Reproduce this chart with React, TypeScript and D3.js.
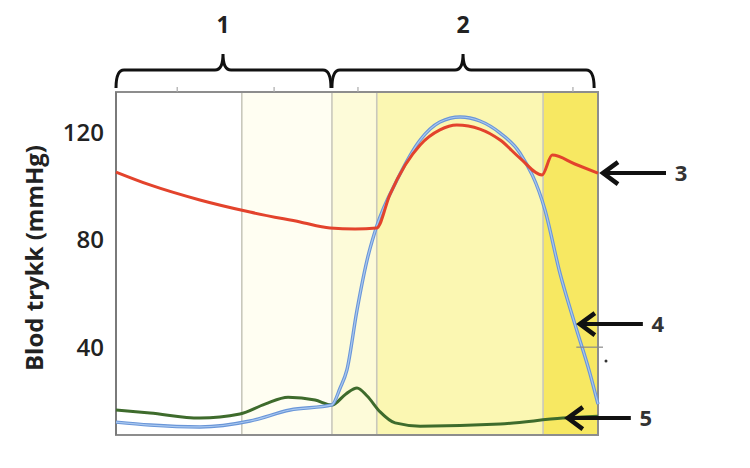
import React from "react";
import * as d3 from "d3";

// ---- data (time in % of cycle, pressure in mmHg) ----
const redT = [0, 7.05, 17.4, 27.8, 38.2, 44.4, 49.6, 54.1, 56.8, 60.0, 63.1, 67.2, 70.7, 75.5, 79.7, 83.8, 88.4, 90.5, 95.2, 100];
const redV = [105.2, 100.4, 94.8, 90.3, 86.6, 84.4, 84.0, 84.4, 96.7, 107.8, 115.3, 120.9, 122.7, 121.2, 117.1, 110.4, 104.1, 111.5, 108.2, 104.8];

const blueT = [0, 7.05, 17.4, 27.8, 36.1, 44.8, 46.5, 47.9, 50.0, 52.1, 54.1, 58.3, 63.1, 67.2, 71.4, 75.5, 79.7, 83.8, 89.0, 92.1, 95.2, 98.3, 100];
const blueV = [12.1, 11.0, 10.3, 12.5, 16.6, 18.5, 24.8, 31.5, 53.8, 72.5, 85.1, 102.2, 117.1, 123.8, 125.7, 124.2, 119.7, 112.3, 91.1, 67.6, 48.6, 30.4, 18.8];

const greenT = [0, 7.05, 17.4, 25.7, 30.9, 35.7, 41.3, 44.8, 47.7, 50.0, 52.1, 54.8, 57.9, 63.1, 79.7, 92.7, 100];
const greenV = [16.6, 15.5, 13.6, 15.1, 18.8, 21.4, 20.3, 18.5, 22.6, 24.8, 21.8, 15.9, 11.8, 10.6, 11.4, 13.6, 14.3];

const phaseBounds = [0, 26.1, 44.8, 54.1, 88.6, 100];
const phaseColors = ["#ffffff", "#fffef2", "#fdfbd9", "#fbf7b2", "#f7e862"];

const yTicks = [40, 80, 120];
const topTicks = [12.7, 32.8, 50.2, 94.8];

const braceStart = [0, 44.8];
const braceEnd = [44.6, 99.2];
const braceMid = [22.2, 72.0];
const braceLabels = ["1", "2"];

const arrowT = [100, 95.2, 92.7];
const arrowV = [104.8, 48.6, 13.6];
const arrowLabels = ["3", "4", "5"];

export default function App() {
  const W = 750, H = 468;
  const x = d3.scaleLinear().domain([0, 100]).range([116, 598]);
  const y = d3.scaleLinear().domain([7.3, 135]).range([435, 92]);
  const mk = (ts: number[], vs: number[]) =>
    d3.line<number>().x((_, i) => x(ts[i])).y((_, i) => y(vs[i])).curve(d3.curveMonotoneX)(ts.map((_, i) => i)) || "";

  const braceY = 70, braceTip = 54, braceBot = 88, r = 8;
  const brace = (a: number, b: number, m: number) => {
    const x0 = x(a), x1 = x(b), xm = x(m);
    return `M${x0},${braceBot} Q${x0},${braceY} ${x0 + r},${braceY} L${xm - r},${braceY} Q${xm},${braceY} ${xm},${braceTip} Q${xm},${braceY} ${xm + r},${braceY} L${x1 - r},${braceY} Q${x1},${braceY} ${x1},${braceBot}`;
  };
  const font = "'Open Sans', sans-serif";

  return (
    <svg width={W} height={H} style={{ position: "absolute", left: 0, top: 0, background: "#fff" }}>
      {phaseColors.map((c, i) => (
        <rect key={i} x={x(phaseBounds[i])} y={y(135)} width={x(phaseBounds[i + 1]) - x(phaseBounds[i])} height={y(7.3) - y(135)} fill={c} />
      ))}
      {phaseBounds.slice(1, -1).map((b, i) => (
        <line key={i} x1={x(b)} x2={x(b)} y1={y(135)} y2={y(7.3)} stroke="#c9c8bc" strokeWidth={1.6} />
      ))}
      <rect x={x(0)} y={y(135)} width={x(100) - x(0)} height={y(7.3) - y(135)} fill="none" stroke="#8d8d8d" strokeWidth={2} />
      <line x1={x(0)} x2={x(0)} y1={y(135)} y2={y(7.3)} stroke="#7a7a7a" strokeWidth={2} />
      {topTicks.map((t, i) => (
        <line key={i} x1={x(t)} x2={x(t)} y1={y(135)} y2={y(135) - 5} stroke="#aaa" strokeWidth={1.2} />
      ))}
      {yTicks.map((v) => (
        <text key={v} x={104} y={y(v)} dy="0.36em" textAnchor="end" fontFamily={font} fontWeight={600} fontSize={24} fill="#222">{v}</text>
      ))}
      <text transform={`translate(34,258) rotate(-90)`} textAnchor="middle" dy="0.36em" fontFamily={font} fontWeight={700} fontSize={24} fill="#222">Blod trykk (mmHg)</text>

      <path d={mk(greenT, greenV)} fill="none" stroke="#3e6b2c" strokeWidth={3} />
      <path d={mk(blueT, blueV)} fill="none" stroke="#6a96d8" strokeWidth={3.4} />
      <path d={mk(blueT, blueV)} fill="none" stroke="#a9c8f0" strokeWidth={1.2} />
      <path d={mk(redT, redV)} fill="none" stroke="#e3432c" strokeWidth={3} />

      <line x1={x(95.5)} x2={x(100) + 5} y1={y(40)} y2={y(40)} stroke="#8a8a8a" strokeWidth={1.2} />
      <circle cx={606} cy={361} r={1.5} fill="#333" />

      {braceStart.map((a, i) => (
        <g key={i}>
          <path d={brace(a, braceEnd[i], braceMid[i])} fill="none" stroke="#111" strokeWidth={3} />
          <text x={x(braceMid[i])} y={25} dy="0.36em" textAnchor="middle" fontFamily={font} fontWeight={700} fontSize={23} fill="#222">{braceLabels[i]}</text>
        </g>
      ))}

      {arrowT.map((t, i) => {
        const tx = x(t) + 3, ty = y(arrowV[i]);
        return (
          <g key={i}>
            <line x1={tx + 2} x2={tx + 65} y1={ty} y2={ty} stroke="#111" strokeWidth={4} />
            <path d={`M${tx + 17},${ty - 11} L${tx + 2},${ty} L${tx + 17},${ty + 11}`} fill="none" stroke="#111" strokeWidth={4.5} strokeLinejoin="miter" />
            <text x={tx + 80} y={ty} dy="0.36em" textAnchor="middle" fontFamily={font} fontWeight={700} fontSize={22} fill="#333">{arrowLabels[i]}</text>
          </g>
        );
      })}
    </svg>
  );
}
